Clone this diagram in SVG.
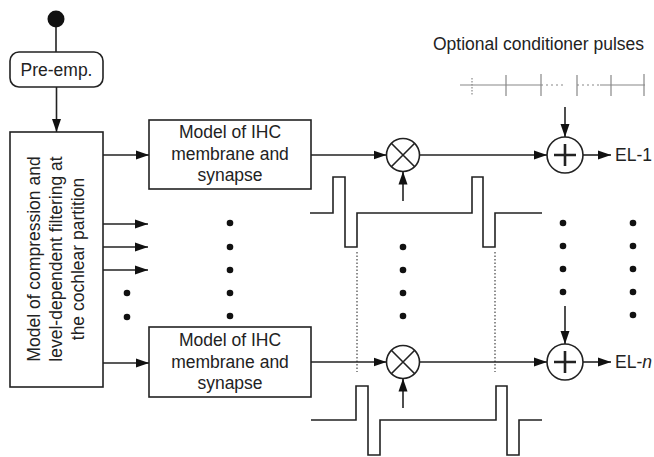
<svg xmlns="http://www.w3.org/2000/svg" width="654" height="457" viewBox="0 0 654 457">
<defs>
<marker id="ah" markerUnits="userSpaceOnUse" markerWidth="14" markerHeight="10" refX="13" refY="5" orient="auto">
<path d="M0,0.5 L13,5 L0,9.5 Z" fill="#111"/>
</marker>
<style>
.box{fill:#fff;stroke:#222;stroke-width:1.6}
.ln{fill:none;stroke:#222;stroke-width:1.6}
.ar{fill:none;stroke:#222;stroke-width:1.6;marker-end:url(#ah)}
.t{font-family:"Liberation Sans",Arial,sans-serif;font-size:17.5px;fill:#222}
.dot{fill:#111}
.dt{fill:none;stroke:#444;stroke-width:1.2;stroke-dasharray:1.5 2}
.g{fill:none;stroke:#888;stroke-width:1.2}
</style>
</defs>
<rect width="654" height="457" fill="#fff"/>

<g id="start"><circle cx="56" cy="19" r="8.5" fill="#111"/></g>

<g id="preemp">
<rect class="box" x="10" y="52" width="93" height="35" rx="9"/>
<text class="t" x="56.5" y="76" text-anchor="middle">Pre-emp.</text>
</g>

<g id="cochlear">
<rect class="box" x="10" y="132" width="93" height="255"/>
<text class="t" transform="translate(57,259) rotate(-90)" text-anchor="middle"><tspan x="0" y="-17">Model of compression and</tspan><tspan x="0" y="5">level-dependent filtering at</tspan><tspan x="0" y="27">the cochlear partition</tspan></text>
</g>

<g id="ihc1">
<rect class="box" x="149" y="120" width="162" height="69"/>
<text class="t" text-anchor="middle"><tspan x="230" y="138">Model of IHC</tspan><tspan x="230" y="160">membrane and</tspan><tspan x="230" y="181">synapse</tspan></text>
</g>

<g id="ihcn">
<rect class="box" x="149" y="327" width="162" height="70"/>
<text class="t" text-anchor="middle"><tspan x="230" y="346">Model of IHC</tspan><tspan x="230" y="368">membrane and</tspan><tspan x="230" y="389">synapse</tspan></text>
</g>

<g id="mult1">
<circle class="ln" cx="403" cy="155" r="16.5"/>
<path class="ln" d="M391.3,143.3 L414.7,166.7 M414.7,143.3 L391.3,166.7"/>
</g>
<g id="multn">
<circle class="ln" cx="403" cy="362" r="16.5"/>
<path class="ln" d="M391.3,350.3 L414.7,373.7 M414.7,350.3 L391.3,373.7"/>
</g>

<g id="plus1">
<circle class="ln" cx="565" cy="155" r="18"/>
<path d="M565,144 V166 M554,155 H576" fill="none" stroke="#222" stroke-width="2.6"/>
</g>
<g id="plusn">
<circle class="ln" cx="565" cy="362" r="18"/>
<path d="M565,351 V373 M554,362 H576" fill="none" stroke="#222" stroke-width="2.6"/>
</g>

<g id="out1"><text class="t" x="615" y="161">EL-1</text></g>
<g id="outn"><text class="t" x="615" y="368">EL-<tspan font-style="italic">n</tspan></text></g>

<g id="conditioner">
<text class="t" x="433" y="50">Optional conditioner pulses</text>
<path class="g" d="M460,85 H541 M600,85 H645"/>
<path class="g" stroke-dasharray="2 3" d="M541,85 H566 M577,85 H600"/>
<path class="g" d="M506,75 V96 M541,74 V96 M577,75 V96 M611,75 V96 M644,74 V96"/>
<path class="g" stroke-dasharray="1.5 1.5" d="M472,78 V95"/>
</g>

<g id="pulses">
<path class="ln" d="M310,213 H333 V177 H345 V247 H357 V213 H472 V177 H483 V247 H495 V213 H542"/>
<path class="ln" d="M311,420 H356 V386 H368 V455 H380 V420 H496 V386 H507 V455 H519 V420 H542"/>
<path class="dt" d="M357,252 V372 M495,252 V372"/>
</g>

<g id="dots">
<circle class="dot" cx="127" cy="293" r="3.3"/>
<circle class="dot" cx="127" cy="317" r="3.3"/>
<circle class="dot" cx="230" cy="223" r="3.3"/>
<circle class="dot" cx="230" cy="247" r="3.3"/>
<circle class="dot" cx="230" cy="270" r="3.3"/>
<circle class="dot" cx="230" cy="293" r="3.3"/>
<circle class="dot" cx="230" cy="316" r="3.3"/>
<circle class="dot" cx="403" cy="247" r="3.3"/>
<circle class="dot" cx="403" cy="270" r="3.3"/>
<circle class="dot" cx="403" cy="293" r="3.3"/>
<circle class="dot" cx="403" cy="316" r="3.3"/>
<circle class="dot" cx="563" cy="223" r="3.3"/>
<circle class="dot" cx="563" cy="246" r="3.3"/>
<circle class="dot" cx="563" cy="269" r="3.3"/>
<circle class="dot" cx="563" cy="292" r="3.3"/>
<circle class="dot" cx="633" cy="223" r="3.3"/>
<circle class="dot" cx="633" cy="246" r="3.3"/>
<circle class="dot" cx="633" cy="269" r="3.3"/>
<circle class="dot" cx="633" cy="292" r="3.3"/>
<circle class="dot" cx="633" cy="315" r="3.3"/>
</g>

<g id="connectors">
<line class="ln" x1="56" y1="27" x2="56" y2="52"/>
<line class="ar" x1="56.5" y1="87" x2="56.5" y2="132"/>
<line class="ar" x1="103" y1="155" x2="149" y2="155"/>
<line class="ar" x1="103" y1="224" x2="148" y2="224"/>
<line class="ar" x1="103" y1="247" x2="148" y2="247"/>
<line class="ar" x1="103" y1="270" x2="148" y2="270"/>
<line class="ar" x1="103" y1="363" x2="149" y2="363"/>
<line class="ar" x1="311" y1="155" x2="386.5" y2="155"/>
<line class="ar" x1="419.5" y1="155" x2="547" y2="155"/>
<line class="ar" x1="403" y1="201" x2="403" y2="171.5"/>
<line class="ar" x1="565" y1="107" x2="565" y2="137"/>
<line class="ar" x1="583" y1="155" x2="611" y2="155"/>
<line class="ar" x1="311" y1="362" x2="386.5" y2="362"/>
<line class="ar" x1="419.5" y1="362" x2="547" y2="362"/>
<line class="ar" x1="403" y1="408" x2="403" y2="378.5"/>
<line class="ar" x1="565" y1="306" x2="565" y2="344"/>
<line class="ar" x1="583" y1="362" x2="611" y2="362"/>
</g>
</svg>
